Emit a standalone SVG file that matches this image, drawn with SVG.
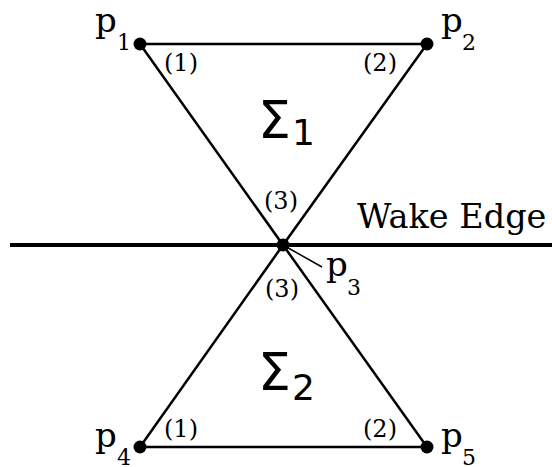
<svg xmlns="http://www.w3.org/2000/svg" width="552" height="467" viewBox="0 0 552 467">
<style>
.tri{fill:none;stroke:#000;stroke-width:2.5;stroke-linejoin:miter}
.wake{stroke:#000;stroke-width:4}
.lead{stroke:#000;stroke-width:1.5}
.pt{fill:#000}
.lbl{font-family:"DejaVu Serif",serif;font-size:34px;fill:#000}
.wk{font-family:"DejaVu Serif",serif;font-size:33.5px;fill:#000}
.sub{font-family:"DejaVu Serif",serif;font-size:22px;fill:#000}
.ang{font-family:"DejaVu Serif",serif;font-size:24px;fill:#000}
.sig{font-family:"DejaVu Sans",sans-serif;font-size:52px;fill:#000}
.sigsub{font-family:"DejaVu Sans",sans-serif;font-size:36px;fill:#000}
</style>
<rect width="552" height="467" fill="#fff"/>
<g id="connectors">
<line class="wake" x1="10" y1="245" x2="552" y2="245"/>
<polyline class="tri" points="140,44 427,44 283,245 140,44"/>
<polyline class="tri" points="140,447 427,447 283,245 140,447"/>
<line class="lead" x1="283" y1="245" x2="322" y2="267"/>
</g>
<g id="sigma1"><text class="sig" x="258" y="138">Σ</text><text class="sigsub" x="292" y="145">1</text></g>
<g id="sigma2"><text class="sig" x="258" y="390">Σ</text><text class="sigsub" x="292" y="400">2</text></g>
<g id="p1"><circle class="pt" cx="140" cy="44" r="6.5"/><text class="lbl" x="95" y="32">p</text><text class="sub" x="117" y="50">1</text></g>
<g id="p2"><circle class="pt" cx="427" cy="44" r="6.5"/><text class="lbl" x="441" y="32">p</text><text class="sub" x="462" y="50">2</text></g>
<g id="p3"><circle class="pt" cx="283" cy="245" r="6.5"/><text class="lbl" x="326" y="276">p</text><text class="sub" x="347" y="295">3</text></g>
<g id="p4"><circle class="pt" cx="140" cy="447" r="6.5"/><text class="lbl" x="95" y="447">p</text><text class="sub" x="117" y="465">4</text></g>
<g id="p5"><circle class="pt" cx="427" cy="447" r="6.5"/><text class="lbl" x="441" y="447">p</text><text class="sub" x="462" y="465">5</text></g>
<g id="angles">
<text class="ang" x="164" y="71">(1)</text>
<text class="ang" x="363" y="71">(2)</text>
<text class="ang" x="264" y="209">(3)</text>
<text class="ang" x="265" y="297">(3)</text>
<text class="ang" x="164" y="437">(1)</text>
<text class="ang" x="363" y="437">(2)</text>
</g>
<g id="wake-label"><text class="wk" x="357" y="228">Wake Edge</text></g>
</svg>
